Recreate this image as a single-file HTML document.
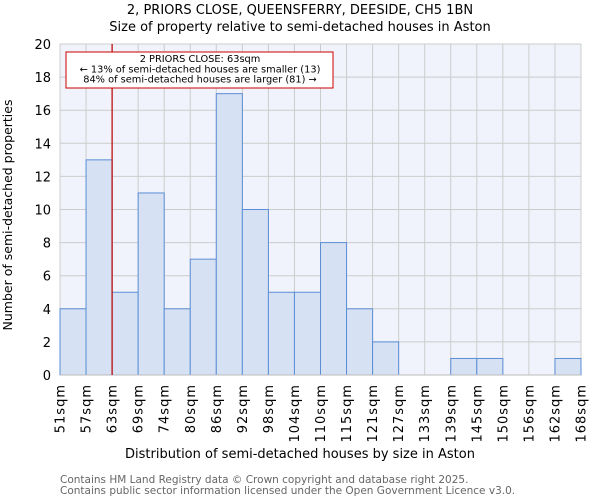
<!DOCTYPE html>
<html><head><meta charset="utf-8"><style>
body{margin:0;background:#fff;font-family:"DejaVu Sans","Liberation Sans",sans-serif}
</style></head><body>
<svg id="c" width="600" height="500" xmlns="http://www.w3.org/2000/svg" font-family="DejaVu Sans, Liberation Sans, sans-serif">
<text x="300" y="14" text-anchor="middle" font-size="13">2, PRIORS CLOSE, QUEENSFERRY, DEESIDE, CH5 1BN</text>
<text x="300" y="31" text-anchor="middle" font-size="13">Size of property relative to semi-detached houses in Aston</text>
<g id="plot"></g>
<text x="300" y="458" text-anchor="middle" font-size="13">Distribution of semi-detached houses by size in Aston</text>
<text transform="translate(12,215) rotate(-90)" text-anchor="middle" font-size="12.5">Number of semi-detached properties</text>
<text x="60" y="483" font-size="10.5" fill="#666">Contains HM Land Registry data © Crown copyright and database right 2025.</text>
<text x="60" y="494" font-size="10.5" fill="#666">Contains public sector information licensed under the Open Government Licence v3.0.</text>
</svg>
<script>
const categories=["51sqm","57sqm","63sqm","69sqm","74sqm","80sqm","86sqm","92sqm","98sqm","104sqm","110sqm","115sqm","121sqm","127sqm","133sqm","139sqm","145sqm","150sqm","156sqm","162sqm","168sqm"];
const counts=[4,13,5,11,4,7,17,10,5,5,8,4,2,0,0,1,1,0,0,1];
const yTicks=[0,2,4,6,8,10,12,14,16,18,20];
const markerIndex=2;
const NS="http://www.w3.org/2000/svg";
const L=60,R=581,T=44,B=375,yMax=20;
const n=counts.length,bw=(R-L)/n;
const xs=i=>L+i*bw, ys=v=>B-(v/yMax)*(B-T);
const g=document.getElementById('plot');
function mk(t,a){const e=document.createElementNS(NS,t);for(const k in a)e.setAttribute(k,a[k]);g.appendChild(e);return e;}
let e=mk('rect',{x:L,y:T,width:R-L,height:B-T,fill:'#f0f3fb'});


yTicks.forEach(v=>{let l=mk('line',{x1:L,x2:R,y1:ys(v),y2:ys(v),stroke:'#ccc','stroke-width':1});


let t=mk('text',{x:L-9,y:ys(v)+5,'text-anchor':'end','font-size':13});t.textContent=v;

});
categories.forEach((c,i)=>{let l=mk('line',{x1:xs(i),x2:xs(i),y1:T,y2:B,stroke:'#ccc','stroke-width':1});


let x=xs(i)+4.5,y=B+9;
let t=mk('text',{x:x,y:y,'text-anchor':'end','font-size':13,'letter-spacing':1,transform:`rotate(-90 ${x} ${y})`});t.textContent=c;

});
counts.forEach((v,i)=>{if(v<=0)return;let r=mk('rect',{x:xs(i),y:ys(v),width:bw,height:B-ys(v),fill:'#d6e1f3',stroke:'#5b8ed6','stroke-width':1});

});
e=mk('line',{x1:L,x2:R,y1:B,y2:B,stroke:'#bbb'});


e=mk('line',{x1:xs(markerIndex),x2:xs(markerIndex),y1:T,y2:B,stroke:'#b00','stroke-width':1.2});


e=mk('rect',{x:66,y:52,width:267,height:36,fill:'#fff',stroke:'#c00','stroke-width':1});


["2 PRIORS CLOSE: 63sqm","← 13% of semi-detached houses are smaller (13)","84% of semi-detached houses are larger (81) →"].forEach((s,i)=>{let t=mk('text',{x:200,y:62+i*10.3,'text-anchor':'middle','font-size':9.8});t.textContent=s;

});
</script>
</body></html>
